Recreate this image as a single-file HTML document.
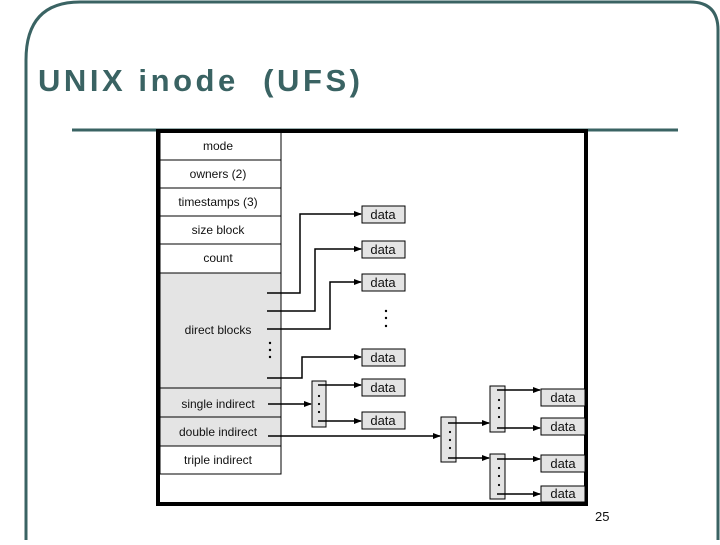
<!DOCTYPE html><html><head><style>body{margin:0;background:#fff}</style></head><body>
<svg width="720" height="540" viewBox="0 0 720 540" xmlns="http://www.w3.org/2000/svg" font-family="Liberation Sans, sans-serif">
<defs><marker id="a" markerWidth="8" markerHeight="8" refX="7" refY="4" orient="auto" markerUnits="userSpaceOnUse"><path d="M0,1 L8,4 L0,7z" fill="#000"/></marker></defs>
<path d="M26,540 V60 Q26,2 80,2 H690 Q718,2 718,30 V540" fill="none" stroke="#3a6363" stroke-width="3"/>
<text x="38" y="91" font-size="31" font-weight="bold" fill="#3a6363" textLength="322" lengthAdjust="spacing" xml:space="preserve">UNIX inode  (UFS)</text>
<line x1="72" y1="130" x2="678" y2="130" stroke="#3a6363" stroke-width="3"/>
<rect x="158" y="131" width="428" height="373" fill="#fff" stroke="#000" stroke-width="4"/>
<rect x="160" y="273" width="121" height="173" fill="#e4e4e4"/>
<g fill="none" stroke="#000" stroke-width="1">
<rect x="160" y="132" width="121" height="342"/>
<line x1="160" y1="160" x2="281" y2="160"/><line x1="160" y1="188" x2="281" y2="188"/>
<line x1="160" y1="216" x2="281" y2="216"/><line x1="160" y1="244" x2="281" y2="244"/>
<line x1="160" y1="273" x2="281" y2="273"/><line x1="160" y1="388" x2="281" y2="388"/>
<line x1="160" y1="417" x2="281" y2="417"/><line x1="160" y1="446" x2="281" y2="446"/>
</g>
<g font-size="12" text-anchor="middle" fill="#111">
<text x="218" y="150">mode</text><text x="218" y="178">owners (2)</text><text x="218" y="206">timestamps (3)</text>
<text x="218" y="234">size block</text><text x="218" y="262">count</text><text x="218" y="334">direct blocks</text>
<text x="218" y="408">single indirect</text><text x="218" y="436">double indirect</text><text x="218" y="464">triple indirect</text>
</g>
<g fill="#e4e4e4" stroke="#000">
<rect x="362" y="206" width="43" height="17"/><rect x="362" y="241" width="43" height="17"/><rect x="362" y="274" width="43" height="17"/>
<rect x="362" y="349" width="43" height="17"/><rect x="362" y="379" width="43" height="17"/><rect x="362" y="412" width="43" height="17"/>
<rect x="541" y="389" width="44" height="17"/><rect x="541" y="418" width="44" height="17"/><rect x="541" y="455" width="44" height="17"/><rect x="541" y="486" width="44" height="16"/>
<rect x="312" y="381" width="14" height="46"/><rect x="441" y="417" width="15" height="45"/>
<rect x="490" y="386" width="15" height="46"/><rect x="490" y="454" width="15" height="45"/>
</g>
<g font-size="13" text-anchor="middle" fill="#111">
<text x="383" y="219">data</text><text x="383" y="254">data</text><text x="383" y="287">data</text><text x="383" y="362">data</text><text x="383" y="392">data</text><text x="383" y="425">data</text>
<text x="563" y="402">data</text><text x="563" y="431">data</text><text x="563" y="468">data</text><text x="563" y="498">data</text>
</g>
<g fill="none" stroke="#000" stroke-width="1.5" marker-end="url(#a)">
<path d="M267,293 H300 V214 H361"/><path d="M267,311 H315 V249 H361"/><path d="M267,329 H330 V282 H361"/><path d="M267,378 H302 V357 H361"/>
<path d="M268,404 H311"/><path d="M318,385 H361"/><path d="M318,421 H361"/>
<path d="M268,436 H440"/><path d="M448,423 H489"/><path d="M448,458 H489"/>
<path d="M497,390 H540"/><path d="M497,428 H540"/><path d="M497,459 H540"/><path d="M497,494 H540"/>
</g>
<g fill="#000">
<circle cx="270" cy="343" r="1.2"/><circle cx="270" cy="350" r="1.2"/><circle cx="270" cy="357" r="1.2"/>
<circle cx="386" cy="311" r="1.2"/><circle cx="386" cy="318" r="1.2"/><circle cx="386" cy="326" r="1.2"/>
<circle cx="319" cy="396" r="1.1"/><circle cx="319" cy="404" r="1.1"/><circle cx="319" cy="412" r="1.1"/>
<circle cx="450" cy="432" r="1.1"/><circle cx="450" cy="440" r="1.1"/><circle cx="450" cy="448" r="1.1"/>
<circle cx="499" cy="400" r="1.1"/><circle cx="499" cy="408" r="1.1"/><circle cx="499" cy="417" r="1.1"/>
<circle cx="499" cy="468" r="1.1"/><circle cx="499" cy="476" r="1.1"/><circle cx="499" cy="485" r="1.1"/>
</g>
<text x="595" y="521" font-size="13" fill="#111">25</text>
</svg>
</body></html>
